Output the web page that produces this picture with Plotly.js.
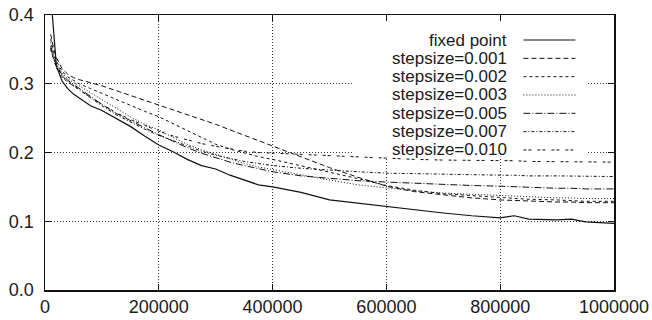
<!DOCTYPE html>
<html>
<head>
<meta charset="utf-8">
<script src="https://cdn.plot.ly/plotly-3.0.1.min.js"></script>
<style>html,body{margin:0;padding:0;background:#fff;}#chart{width:652px;height:320px;}</style>
</head>
<body>
<div id="chart"></div>
<script>
// iterations (shared x values)
const iterations = [10000, 15000, 20000, 30000, 40000, 50000, 60000, 80000, 100000, 125000, 150000, 175000, 200000, 225000, 250000, 275000, 300000, 325000, 350000, 375000, 400000, 450000, 500000, 550000, 600000, 650000, 700000, 750000, 800000, 825000, 850000, 900000, 925000, 950000, 1000000];

const fixedPoint = [0.43, 0.37, 0.326, 0.304, 0.293, 0.285, 0.279, 0.268, 0.261, 0.249, 0.238, 0.224, 0.211, 0.201, 0.190, 0.181, 0.176, 0.167, 0.160, 0.153, 0.150, 0.142, 0.131, 0.126, 0.122, 0.117, 0.112, 0.108, 0.105, 0.108, 0.103, 0.102, 0.103, 0.099, 0.097];
const step001 = [0.372, 0.352, 0.338, 0.322, 0.314, 0.309, 0.306, 0.302, 0.297, 0.290, 0.283, 0.277, 0.270, 0.263, 0.256, 0.249, 0.241, 0.233, 0.225, 0.218, 0.210, 0.193, 0.178, 0.164, 0.151, 0.143, 0.138, 0.134, 0.131, 0.130, 0.129, 0.128, 0.128, 0.127, 0.127];
const step002 = [0.365, 0.345, 0.333, 0.318, 0.310, 0.305, 0.300, 0.293, 0.286, 0.277, 0.268, 0.260, 0.252, 0.242, 0.232, 0.222, 0.212, 0.205, 0.199, 0.194, 0.190, 0.181, 0.172, 0.162, 0.152, 0.145, 0.140, 0.137, 0.134, 0.133, 0.132, 0.131, 0.130, 0.129, 0.129];
const step003 = [0.360, 0.342, 0.330, 0.316, 0.307, 0.302, 0.297, 0.287, 0.277, 0.264, 0.252, 0.241, 0.233, 0.222, 0.212, 0.204, 0.197, 0.190, 0.184, 0.179, 0.175, 0.167, 0.160, 0.153, 0.148, 0.144, 0.141, 0.139, 0.137, 0.136, 0.135, 0.134, 0.134, 0.133, 0.133];
const step005 = [0.355, 0.338, 0.327, 0.313, 0.305, 0.299, 0.293, 0.281, 0.270, 0.257, 0.246, 0.236, 0.226, 0.216, 0.207, 0.199, 0.192, 0.186, 0.181, 0.176, 0.172, 0.166, 0.162, 0.159, 0.157, 0.155, 0.153, 0.152, 0.151, 0.150, 0.149, 0.148, 0.148, 0.147, 0.147];
const step007 = [0.352, 0.336, 0.325, 0.312, 0.303, 0.297, 0.291, 0.279, 0.268, 0.255, 0.244, 0.234, 0.225, 0.217, 0.209, 0.202, 0.196, 0.191, 0.187, 0.184, 0.181, 0.177, 0.174, 0.172, 0.170, 0.169, 0.168, 0.168, 0.167, 0.167, 0.166, 0.166, 0.166, 0.165, 0.165];
const step010 = [0.350, 0.335, 0.323, 0.310, 0.302, 0.297, 0.292, 0.280, 0.270, 0.258, 0.248, 0.239, 0.231, 0.224, 0.218, 0.213, 0.209, 0.205, 0.202, 0.200, 0.199, 0.197, 0.195, 0.193, 0.191, 0.190, 0.189, 0.189, 0.188, 0.188, 0.187, 0.187, 0.186, 0.186, 0.186];

const seriesNames = ["fixed point", "stepsize=0.001", "stepsize=0.002", "stepsize=0.003", "stepsize=0.005", "stepsize=0.007", "stepsize=0.010"];
const seriesValues = [fixedPoint, step001, step002, step003, step005, step007, step010];
const dashes = ["solid", "5px,3px", "3px,3px", "1px,2px", "7px,2px,1px,2px", "3px,2px,1px,2px", "3px,2px,3px,6px"];

const xTicks = [0, 200000, 400000, 600000, 800000, 1000000];
const yTicks = [0.0, 0.1, 0.2, 0.3, 0.4];

const FONT = "Liberation Sans, Arial, Helvetica, sans-serif";

const traces = seriesNames.map((n, i) => ({
  x: iterations, y: seriesValues[i], name: n, type: "scatter", mode: "lines",
  line: {color: "#111", width: i === 0 ? 1.2 : 1, dash: dashes[i]},
  showlegend: false, hoverinfo: "skip"
}));

// manual gnuplot-style key: text right-aligned, sample to its right
const keyTextX = 0.8144, keyLineX0 = 0.8408, keyLineX1 = 0.9323;
const rowY0 = 40, rowStep = 18.33, plotH = 275;
const annotations = [], shapes = [];
// opaque key background: hides grid lines, stays under the curves
shapes.push({type: "rect", xref: "x", yref: "y", layer: "between",
  x0: 540000, x1: 953000, y0: 0.194, y1: 0.4,
  fillcolor: "#fff", line: {width: 0}});
seriesNames.forEach((n, i) => {
  const py = rowY0 + i * rowStep;
  const yp = (290 - py) / plotH;
  annotations.push({text: n, xref: "paper", yref: "paper", x: keyTextX, y: yp,
    xanchor: "right", yanchor: "middle", showarrow: false, borderpad: 0,
    font: {family: FONT, size: 17, color: "#1a1a1a"}});
  shapes.push({type: "line", xref: "paper", yref: "paper", layer: "above",
    x0: keyLineX0, x1: keyLineX1, y0: yp, y1: yp,
    line: {color: "#111", width: i === 0 ? 1.2 : 1, dash: dashes[i]}});
});

const axisCommon = {
  showline: true, linecolor: "#111", linewidth: 1.5, mirror: "allticks",
  ticks: "inside", ticklen: 6, tickcolor: "#111", tickwidth: 1,
  showgrid: true, gridcolor: "#333", griddash: "1px,2px", gridwidth: 1,
  zeroline: false, tickfont: {family: FONT, size: 18, color: "#1a1a1a"}
};

const layout = {
  width: 652, height: 320,
  margin: {l: 45, r: 38, t: 15, b: 30},
  paper_bgcolor: "#fff", plot_bgcolor: "#fff",
  xaxis: Object.assign({}, axisCommon, {range: [0, 1000000], tickvals: xTicks,
    ticktext: xTicks.map(v => String(v)), ticklabelstandoff: 0}),
  yaxis: Object.assign({}, axisCommon, {range: [0, 0.4], tickvals: yTicks,
    ticktext: yTicks.map(v => v.toFixed(1)), ticklabelstandoff: 6}),
  annotations: annotations, shapes: shapes, showlegend: false
};

Plotly.newPlot("chart", traces, layout, {staticPlot: true, displayModeBar: false});
</script>
</body>
</html>
